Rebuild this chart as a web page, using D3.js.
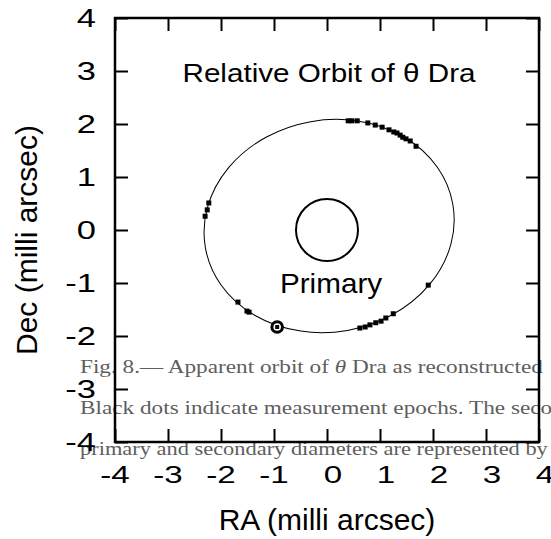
<!DOCTYPE html>
<html>
<head>
  <meta charset="utf-8">
  <title>Relative Orbit of theta Dra</title>
  <script src="https://d3js.org/d3.v7.min.js"></script>
  <style>
    body { margin: 0; background: #fff; }
    svg { display: block; }
  </style>
</head>
<body>
  <script>
    // measurement epochs, RA / Dec offsets in milli arcsec
    const epochRA = [0.40, 0.47, 0.57, 0.77, 0.91, 1.04, 1.17, 1.26, 1.32, 1.38, 1.43, 1.49, 1.57, 1.68,
                     -2.23, -2.26, -2.30,
                     -1.68, -1.51, -1.47,
                     0.62, 0.72, 0.81, 0.92, 1.02, 1.11, 1.25, 1.91];
    const epochDec = [2.06, 2.06, 2.06, 2.02, 1.98, 1.94, 1.89, 1.85, 1.83, 1.79, 1.75, 1.72, 1.68, 1.58,
                      0.51, 0.38, 0.26,
                      -1.36, -1.53, -1.55,
                      -1.85, -1.83, -1.79, -1.75, -1.72, -1.66, -1.58, -1.04];

    // apparent orbit: centre, semi-axes, tilt (deg)
    const orbitCenter = [0.04, 0.075];
    const orbitAxes = [2.37, 2.0];
    const orbitTilt = 10;

    // stars: primary at origin, secondary at its current position
    const primary = { ra: 0, dec: 0, r: 0.585 };
    const secondary = { ra: -0.94, dec: -1.83, r: 0.1 };

    const tickValues = [-4, -3, -2, -1, 0, 1, 2, 3, 4];

    const caption = [
      'Fig.  8.\u2014 Apparent orbit of ',
      'Black dots indicate measurement epochs. The secondary',
      'primary and secondary diameters are represented by'
    ];

    const width = 551, height = 539;
    const svg = d3.select('body').append('svg')
      .attr('width', width)
      .attr('height', height);

    const x = d3.scaleLinear().domain([-4, 4]).range([115, 539]);
    const y = d3.scaleLinear().domain([-4, 4]).range([442, 18]);

    // caption text from the paper, lying under the plot
    const cap = svg.append('g')
      .attr('font-family', '"Liberation Serif", serif')
      .attr('font-size', 19.5)
      .attr('fill', '#5e5e5e');
    const capLines = cap.selectAll('text')
      .data(caption)
      .enter().append('text')
      .attr('x', 0)
      .attr('y', 0);
    capLines.text(d => d);
    const first = capLines.filter((d, i) => i === 0);
    first.append('tspan').attr('font-style', 'italic').text('\u03b8');
    first.append('tspan').text(' Dra as reconstructed');
    const sx = 463 / first.node().getComputedTextLength();
    const sx3 = 468 / capLines.nodes()[2].getComputedTextLength();
    capLines.attr('transform', (d, i) =>
      `translate(80,${373 + i * 41}) scale(${i === 2 ? sx3 : sx},1)`);

    // ticks on all four sides, pointing inwards
    const tickLen = 13;
    const axes = [
      [d3.axisBottom(x), `translate(0,${y(-4)})`],
      [d3.axisTop(x), `translate(0,${y(4)})`],
      [d3.axisLeft(y), `translate(${x(-4)},0)`],
      [d3.axisRight(y), `translate(${x(4)},0)`]
    ];
    axes.forEach(([ax, tr]) => {
      const g = svg.append('g')
        .attr('transform', tr)
        .call(ax.tickValues(tickValues).tickSize(-tickLen).tickSizeOuter(0).tickFormat(''));
      g.select('.domain').remove();
      g.selectAll('line').attr('stroke', '#000').attr('stroke-width', 2);
    });

    svg.append('rect')
      .attr('x', x(-4))
      .attr('y', y(4))
      .attr('width', x(4) - x(-4))
      .attr('height', y(-4) - y(4))
      .attr('fill', 'none')
      .attr('stroke', '#000')
      .attr('stroke-width', 2.5);

    // tick labels
    const labelFont = '"Liberation Sans", Arial, sans-serif';
    svg.append('g').selectAll('text')
      .data(tickValues)
      .enter().append('text')
      .attr('font-family', labelFont)
      .attr('font-size', 24)
      .attr('text-anchor', 'middle')
      .attr('transform', d => `translate(${x(d) + (d >= 0 ? 6 : 0)},${y(-4) + 41}) scale(1.38,1)`)
      .text(d => d);

    svg.append('g').selectAll('text')
      .data(tickValues)
      .enter().append('text')
      .attr('font-family', labelFont)
      .attr('font-size', 25)
      .attr('text-anchor', 'end')
      .attr('transform', d => `translate(96,${y(d) + 9}) scale(1.38,1)`)
      .text(d => d);

    // axis titles
    svg.append('text')
      .attr('font-family', labelFont)
      .attr('font-size', 30)
      .attr('text-anchor', 'middle')
      .attr('x', 327)
      .attr('y', 530)
      .text('RA (milli arcsec)');

    svg.append('text')
      .attr('font-family', labelFont)
      .attr('font-size', 30)
      .attr('text-anchor', 'middle')
      .attr('transform', 'translate(37,240) rotate(-90)')
      .text('Dec (milli arcsec)');

    // chart title and primary label
    svg.append('text')
      .attr('font-family', labelFont)
      .attr('font-size', 26)
      .attr('text-anchor', 'middle')
      .attr('transform', `translate(329,82) scale(1.14,1)`)
      .text('Relative Orbit of \u03b8 Dra');

    svg.append('text')
      .attr('font-family', labelFont)
      .attr('font-size', 28)
      .attr('text-anchor', 'middle')
      .attr('transform', `translate(331,293) scale(1.06,1)`)
      .text('Primary');

    // orbit
    const cx = x(orbitCenter[0]), cy = y(orbitCenter[1]);
    svg.append('ellipse')
      .attr('cx', cx)
      .attr('cy', cy)
      .attr('rx', x(orbitAxes[0]) - x(0))
      .attr('ry', y(0) - y(orbitAxes[1]))
      .attr('transform', `rotate(${-orbitTilt},${cx},${cy})`)
      .attr('fill', 'none')
      .attr('stroke', '#000')
      .attr('stroke-width', 1);

    // primary star
    svg.append('circle')
      .attr('cx', x(primary.ra))
      .attr('cy', y(primary.dec))
      .attr('r', x(primary.r) - x(0))
      .attr('fill', 'none')
      .attr('stroke', '#000')
      .attr('stroke-width', 2);

    // epochs
    const s = 5;
    svg.append('g').selectAll('rect')
      .data(epochRA.map((d, i) => [d, epochDec[i]]))
      .enter().append('rect')
      .attr('x', d => x(d[0]) - s / 2)
      .attr('y', d => y(d[1]) - s / 2)
      .attr('width', s)
      .attr('height', s)
      .attr('fill', '#000');

    // secondary star
    svg.append('circle')
      .attr('cx', x(secondary.ra))
      .attr('cy', y(secondary.dec))
      .attr('r', x(secondary.r) - x(0))
      .attr('fill', '#fff')
      .attr('stroke', '#000')
      .attr('stroke-width', 3);
    svg.append('rect')
      .attr('x', x(secondary.ra) - 2)
      .attr('y', y(secondary.dec) - 2)
      .attr('width', 4)
      .attr('height', 4)
      .attr('fill', '#000');
  </script>
</body>
</html>
